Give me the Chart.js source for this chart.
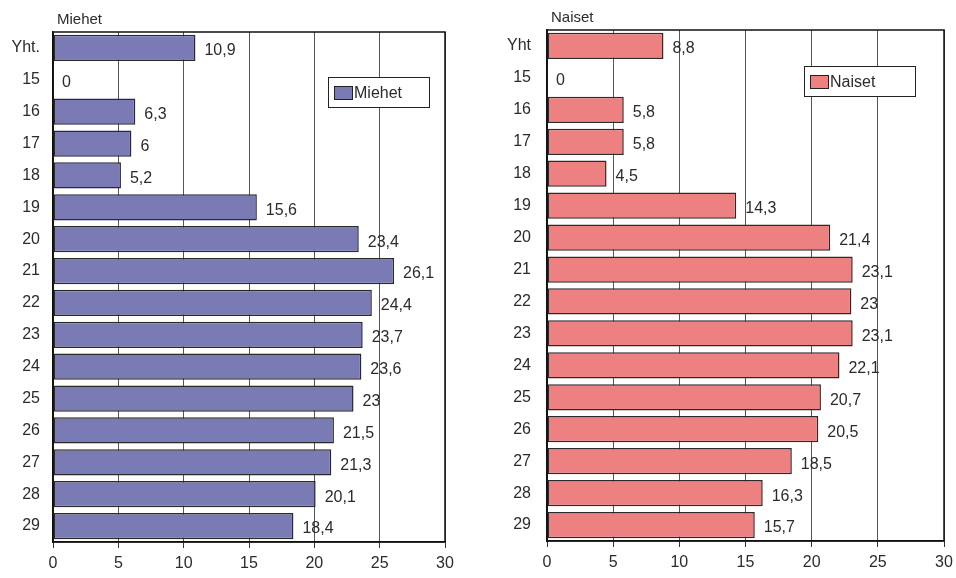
<!DOCTYPE html>
<html>
<head>
<meta charset="utf-8">
<script src="https://cdn.jsdelivr.net/npm/chart.js@4/dist/chart.umd.min.js"></script>
<style>
  html, body { margin: 0; padding: 0; background: #fff; }
  #wrap { width: 956px; height: 578px; display: flex; }
  .box { width: 478px; height: 578px; position: relative; }
</style>
</head>
<body>
<div id="wrap">
  <div class="box"><canvas id="chartMen"></canvas></div>
  <div class="box"><canvas id="chartWomen"></canvas></div>
</div>
<script>
// ikäryhmät ja arvot
var menAges = ['Yht.', '15', '16', '17', '18', '19', '20', '21', '22', '23', '24', '25', '26', '27', '28', '29'];
var womenAges = ['Yht', '15', '16', '17', '18', '19', '20', '21', '22', '23', '24', '25', '26', '27', '28', '29'];
var menValues = [10.9, 0, 6.3, 6, 5.2, 15.6, 23.4, 26.1, 24.4, 23.7, 23.6, 23, 21.5, 21.3, 20.1, 18.4];
var womenValues = [8.8, 0, 5.8, 5.8, 4.5, 14.3, 21.4, 23.1, 23, 23.1, 22.1, 20.7, 20.5, 18.5, 16.3, 15.7];
var xTicks = [0, 5, 10, 15, 20, 25, 30];

var FONT = '"Liberation Sans", Arial, Helvetica, sans-serif';
var TEXT = '#2b2b2b';

// piirtää otsikon, kehyksen, selitteen ja arvot
var extras = {
    id: 'extras',
    afterDatasetsDraw: function (chart, args, opts) {
        var ctx = chart.ctx;
        var a = chart.chartArea;
        ctx.save();

        // arvot palkkien perään
        var meta = chart.getDatasetMeta(0);
        var data = chart.data.datasets[0].data;
        ctx.font = '16px ' + FONT;
        ctx.fillStyle = TEXT;
        ctx.textBaseline = 'middle';
        ctx.textAlign = 'left';
        meta.data.forEach(function (bar, i) {
            var txt = String(data[i]).replace('.', ',');
            ctx.fillText(txt, bar.x + 9, bar.y + 3);
        });

        // kehys
        ctx.strokeStyle = '#111';
        ctx.lineWidth = 1.5;
        ctx.strokeRect(a.left, a.top, a.right - a.left, a.bottom - a.top);

        // otsikko
        ctx.font = '15px ' + FONT;
        ctx.fillStyle = TEXT;
        ctx.textBaseline = 'alphabetic';
        ctx.fillText(opts.title, a.left + 4, a.top - 8);

        // selite
        var lx = opts.legendX, ly = opts.legendY, lw = opts.legendW, lh = 30;
        ctx.fillStyle = '#fff';
        ctx.fillRect(lx, ly, lw, lh);
        ctx.strokeStyle = '#222';
        ctx.lineWidth = 1;
        ctx.strokeRect(lx + 0.5, ly + 0.5, lw, lh);
        ctx.fillStyle = opts.color;
        ctx.fillRect(lx + 6, ly + 9, 18, 13);
        ctx.strokeStyle = '#222';
        ctx.strokeRect(lx + 6.5, ly + 9.5, 18, 13);
        ctx.font = '16px ' + FONT;
        ctx.fillStyle = TEXT;
        ctx.textBaseline = 'middle';
        ctx.fillText(opts.title, lx + 26, ly + lh / 2 + 2);

        ctx.restore();
    }
};

function makeChart(id, labels, values, color, cfg) {
    return new Chart(document.getElementById(id), {
        type: 'bar',
        data: {
            labels: labels,
            datasets: [{
                label: cfg.title,
                data: values,
                backgroundColor: color,
                borderColor: '#2a2a2a',
                borderWidth: 1.5,
                borderSkipped: false,
                barPercentage: 0.82,
                categoryPercentage: 1
            }]
        },
        options: {
            indexAxis: 'y',
            responsive: true,
            maintainAspectRatio: false,
            animation: false,
            layout: { padding: { top: cfg.top, right: cfg.right, left: 0, bottom: 0 } },
            plugins: {
                legend: { display: false },
                tooltip: { enabled: false },
                extras: { title: cfg.title, color: color, legendX: cfg.legendX, legendY: cfg.legendY, legendW: cfg.legendW }
            },
            scales: {
                x: {
                    min: 0,
                    max: 30,
                    afterBuildTicks: function (axis) {
                        axis.ticks = xTicks.map(function (v) { return { value: v }; });
                    },
                    afterFit: function (axis) {
                        axis.height = cfg.xh;
                        axis.paddingRight = 0;
                        axis.paddingLeft = 0;
                    },
                    grid: { color: '#555', lineWidth: 1, drawTicks: true, tickLength: 6, tickColor: '#333' },
                    border: { color: '#111', width: 1.5 },
                    ticks: { color: TEXT, font: { family: FONT, size: 16 }, padding: 6, maxRotation: 0 }
                },
                y: {
                    afterFit: function (axis) { axis.width = cfg.yw; },
                    grid: { display: false, drawTicks: false },
                    border: { color: '#111', width: 1.5 },
                    ticks: { color: TEXT, font: { family: FONT, size: 16 }, padding: cfg.ypad }
                }
            }
        },
        plugins: [extras]
    });
}

makeChart('chartMen', menAges, menValues, '#7a7ab4',
    { title: 'Miehet', top: 32, right: 33, xh: 36, yw: 53, ypad: 13, legendX: 328, legendY: 77, legendW: 101 });
makeChart('chartWomen', womenAges, womenValues, '#ed8080',
    { title: 'Naiset', top: 30, right: 12, xh: 37, yw: 69, ypad: 16, legendX: 326, legendY: 66, legendW: 111 });
</script>
</body>
</html>
